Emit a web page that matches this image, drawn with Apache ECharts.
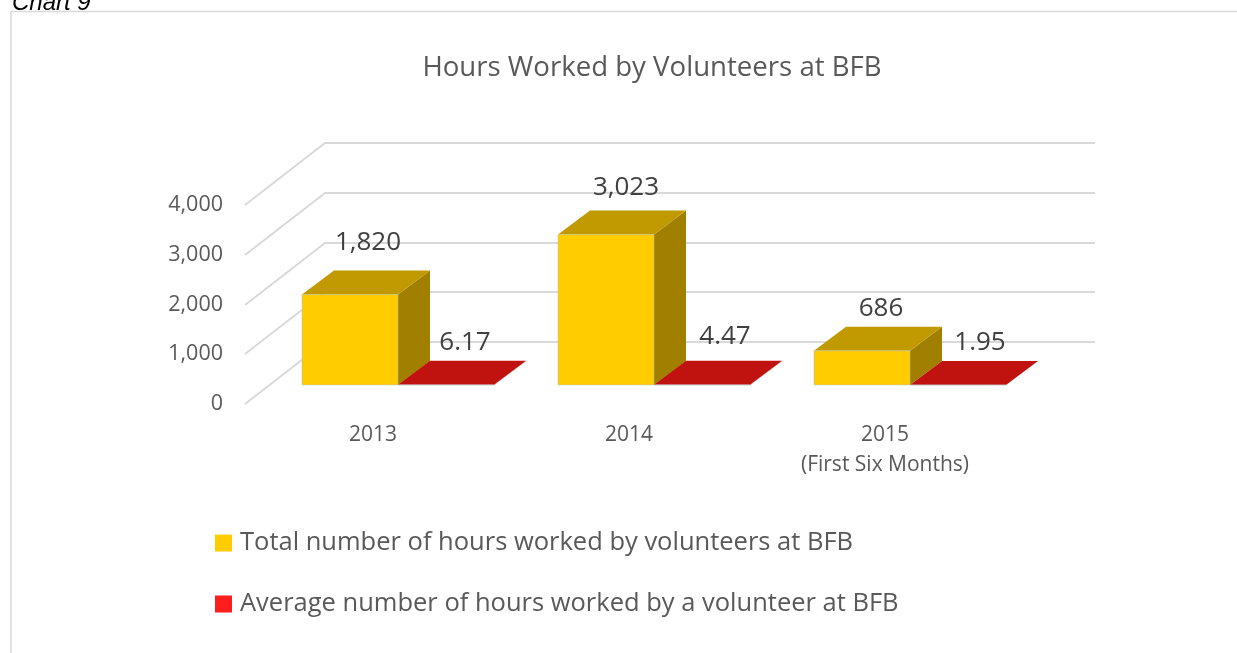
<!DOCTYPE html>
<html>
<head>
<meta charset="utf-8">
<style>
html, body { margin: 0; padding: 0; background: #fff; }
#chart { width: 1237px; height: 653px; }
</style>
<script src="https://cdn.jsdelivr.net/npm/echarts@6/dist/echarts.min.js"></script>
</head>
<body>
<div id="chart"></div>
<script>
const categories = ['2013', '2014', '2015\n(First Six Months)'];
const totalHours = [1820, 3023, 686];
const averageHours = [6.17, 4.47, 1.95];
const yTicks = [0, 1000, 2000, 3000, 4000];

const FONT = '"Open Sans", sans-serif';
const GREY = '#595959';
const LABEL = '#404040';

// fake 3D: how far the back wall and the bars sit behind the front plane
const WALL = [80, -62];
const WALL_OVERRUN = 2;
const BAR_SHIFT = [25, -19];
const BAR_DEPTH = [32, -24];
const BAR_WIDTH = 96;

// hand placed data labels, per category
const totalLabelNudge = [[18, -28], [20, -23], [19, -18]];
const averageLabelNudge = [[19, -18], [23, -24], [22, -18]];

const chart = echarts.init(document.getElementById('chart'));

function gridLines(params, api) {
    const y = Math.round(api.coord([0, api.value(0)])[1]);
    const x0 = params.coordSys.x;
    const x1 = x0 + params.coordSys.width;
    return {
        type: 'polyline',
        shape: {
            points: [
                [x0, y],
                [x0 + WALL[0], y + WALL[1]],
                [x1 + WALL[0] + WALL_OVERRUN, y + WALL[1]]
            ]
        },
        style: { fill: 'none', stroke: '#d9d9d9', lineWidth: 2 }
    };
}

// one box: front, top and side face plus its label
function box(api, side, colors, text, nudge) {
    const top = api.coord([api.value(0), api.value(1)]);
    const base = api.coord([api.value(0), 0]);
    const xl = top[0] + BAR_SHIFT[0] + (side < 0 ? -BAR_WIDTH : 0);
    const xr = xl + BAR_WIDTH;
    const yt = top[1] + BAR_SHIFT[1];
    const yb = base[1] + BAR_SHIFT[1];
    const dx = BAR_DEPTH[0];
    const dy = BAR_DEPTH[1];
    return {
        type: 'group',
        children: [
            {
                type: 'polygon',
                shape: { points: [[xr, yb], [xr + dx, yb + dy], [xr + dx, yt + dy], [xr, yt]] },
                style: { fill: colors[2] }
            },
            {
                type: 'polygon',
                shape: { points: [[xl, yt], [xr, yt], [xr + dx, yt + dy], [xl + dx, yt + dy]] },
                style: { fill: colors[1] }
            },
            {
                type: 'rect',
                shape: { x: xl, y: yt, width: BAR_WIDTH, height: yb - yt },
                style: { fill: colors[0], stroke: '#bdbdbd', lineWidth: 0.5 }
            },
            {
                type: 'text',
                z2: 10,
                style: {
                    text: text,
                    x: (xl + xr) / 2 + nudge[0],
                    y: yt + dy + nudge[1],
                    align: 'center',
                    verticalAlign: 'middle',
                    fill: LABEL,
                    font: '26px ' + FONT
                }
            }
        ]
    };
}

chart.setOption({
    animation: false,
    title: [
        {
            text: 'Hours Worked by Volunteers at BFB',
            left: 647,
            top: 49,
            textAlign: 'center',
            textStyle: { fontFamily: FONT, fontSize: 27.6, fontWeight: 'normal', color: GREY }
        },
        {
            text: 'Chart 9',
            left: 7,
            top: -14,
            textStyle: { fontFamily: '"Liberation Sans", sans-serif', fontSize: 24, fontStyle: 'italic', fontWeight: 'normal', color: '#000' }
        }
    ],
    graphic: [
        { type: 'line', shape: { x1: 11, y1: 11.5, x2: 1237, y2: 11.5 }, style: { stroke: '#d9d9d9', lineWidth: 1.5 } },
        { type: 'line', shape: { x1: 11, y1: 11, x2: 11, y2: 653 }, style: { stroke: '#d9d9d9', lineWidth: 1.5 } }
    ],
    legend: {
        orient: 'vertical',
        left: 210,
        top: 525,
        itemWidth: 17,
        itemHeight: 17,
        itemGap: 35,
        icon: 'rect',
        data: ['Total number of hours worked by volunteers at BFB', 'Average number of hours worked by a volunteer at BFB'],
        textStyle: { fontFamily: FONT, fontSize: 25.5, color: GREY, padding: [0, 0, 0, 3] }
    },
    grid: { left: 245, right: 224, top: 205, bottom: 249 },
    xAxis: {
        type: 'category',
        data: categories,
        axisLine: { show: false },
        axisTick: { show: false },
        axisLabel: { fontFamily: FONT, fontSize: 21, color: GREY, margin: 16, lineHeight: 30 }
    },
    yAxis: {
        type: 'value',
        min: 0,
        max: 4000,
        interval: 1000,
        splitLine: { show: false },
        axisLine: { show: false },
        axisTick: { show: false },
        axisLabel: {
            fontFamily: FONT,
            fontSize: 21.5,
            color: GREY,
            margin: 22,
            formatter: v => v.toLocaleString('en-US')
        }
    },
    series: [
        {
            type: 'custom',
            silent: true,
            z: 1,
            clip: false,
            data: yTicks.map(v => [v]),
            encode: { y: 0 },
            renderItem: gridLines
        },
        {
            type: 'custom',
            name: 'Total number of hours worked by volunteers at BFB',
            z: 2,
            clip: false,
            itemStyle: { color: '#FFCC00' },
            data: totalHours.map((v, i) => [i, v]),
            encode: { x: 0, y: 1 },
            renderItem: (params, api) => box(api, -1, ['#FFCC00', '#C09A00', '#A17F00'],
                api.value(1).toLocaleString('en-US'), totalLabelNudge[params.dataIndex])
        },
        {
            type: 'custom',
            name: 'Average number of hours worked by a volunteer at BFB',
            z: 2,
            clip: false,
            itemStyle: { color: '#FF1E1E' },
            data: averageHours.map((v, i) => [i, v]),
            encode: { x: 0, y: 1 },
            renderItem: (params, api) => box(api, 1, ['#C0130F', '#C0130F', '#A00F0C'],
                api.value(1).toFixed(2), averageLabelNudge[params.dataIndex])
        }
    ]
});
</script>
</body>
</html>
